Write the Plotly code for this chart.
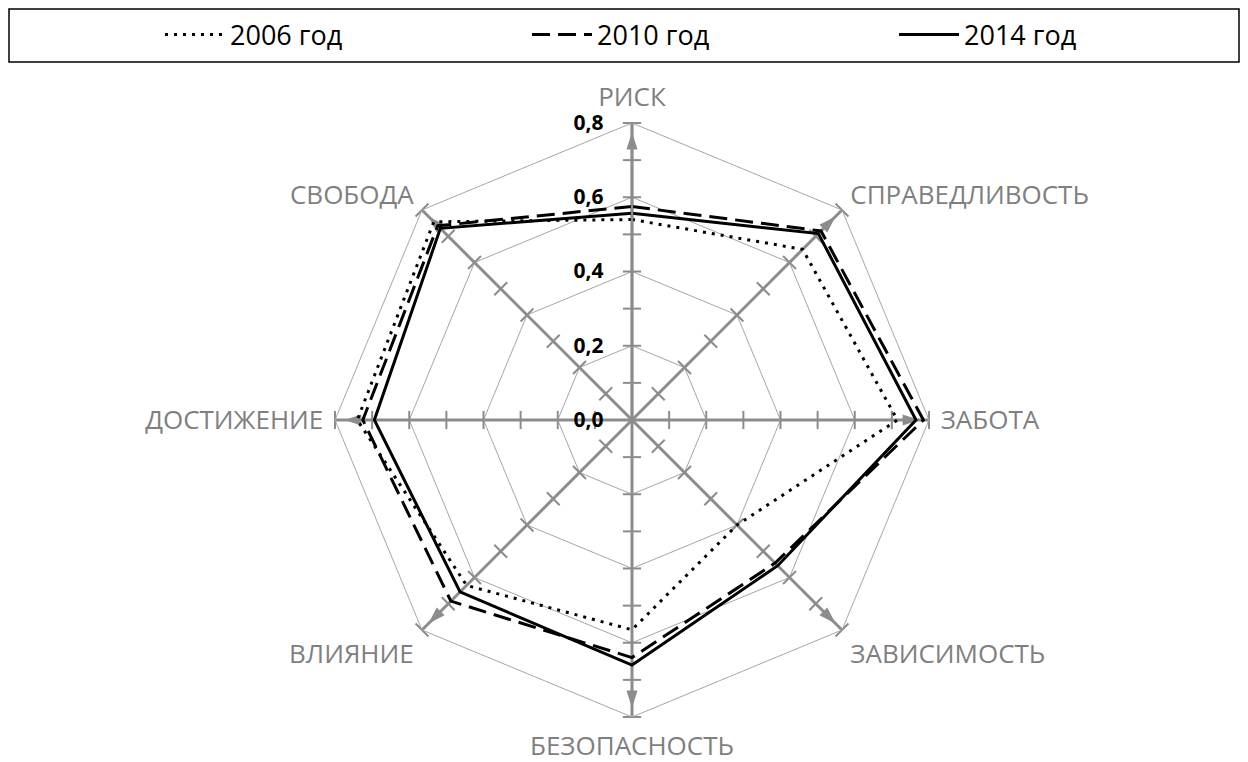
import plotly.graph_objects as go

categories = ["РИСК", "СПРАВЕДЛИВОСТЬ", "ЗАБОТА", "ЗАВИСИМОСТЬ",
              "БЕЗОПАСНОСТЬ", "ВЛИЯНИЕ", "ДОСТИЖЕНИЕ", "СВОБОДА"]
values_2006 = [0.54, 0.65, 0.715, 0.40, 0.565, 0.63, 0.74, 0.755]
values_2010 = [0.575, 0.72, 0.785, 0.545, 0.64, 0.69, 0.725, 0.74]
values_2014 = [0.557, 0.71, 0.765, 0.555, 0.66, 0.655, 0.694, 0.73]
series_names = ["2006 год", "2010 год", "2014 год"]
radial_ticks = [0.0, 0.2, 0.4, 0.6, 0.8]
minor_ticks = [0.1, 0.2, 0.3, 0.4, 0.5, 0.6, 0.7, 0.8]

AX = "#8c8c8c"
GRID = "#a6a6a6"

W, H = 1248, 762
ML, MR, MT, MB = 0, 0, 115, 53
PW = W - ML - MR
PH = H - MT - MB

fig = go.Figure()

n = len(categories)
compass = [i * 360.0 / n for i in range(n)]

for cat, ang in zip(categories, compass):
    fig.add_trace(go.Scatterpolar(
        r=minor_ticks, theta=[cat] * len(minor_ticks), mode="markers",
        marker=dict(symbol="line-ew", size=13, angle=ang,
                    line=dict(color=AX, width=2)),
        showlegend=False, hoverinfo="skip"))
    fig.add_trace(go.Scatterpolar(
        r=[0.775], theta=[cat], mode="markers",
        marker=dict(symbol="arrow", size=18, angle=ang, color=AX,
                    line=dict(width=0)),
        showlegend=False, hoverinfo="skip"))

fig.add_trace(go.Scatterpolar(
    r=[0], theta=[categories[0]], mode="markers",
    marker=dict(symbol="circle", size=15, color=AX),
    showlegend=False, hoverinfo="skip"))

styles = [dict(color="black", width=3, dash="3px,6px"),
          dict(color="black", width=3, dash="18px,8px"),
          dict(color="black", width=3, dash="solid")]
for name, vals, st in zip(series_names, [values_2006, values_2010, values_2014], styles):
    fig.add_trace(go.Scatterpolar(
        r=vals + vals[:1], theta=categories + categories[:1], mode="lines",
        name=name, line=st, hoverinfo="skip"))

fig.update_layout(
    width=W, height=H,
    paper_bgcolor="white", plot_bgcolor="white",
    separators=", ",
    margin=dict(l=ML, r=MR, t=MT, b=MB, autoexpand=False),
    font=dict(family="Open Sans", color="black"),
    polar=dict(
        bgcolor="white",
        gridshape="linear",
        angularaxis=dict(
            direction="clockwise", rotation=90,
            categoryorder="array", categoryarray=categories,
            showgrid=True, gridcolor=AX, gridwidth=2.5,
            showline=True, linecolor=GRID, linewidth=1,
            ticks="outside", ticklen=6, tickcolor="rgba(0,0,0,0)",
            tickfont=dict(family="Open Sans", size=26, color="#7f7f7f"),
        ),
        radialaxis=dict(
            range=[0, 0.8], tickvals=radial_ticks, tickformat=".1f",
            angle=90, tickangle=90, side="counterclockwise",
            showgrid=True, gridcolor=GRID, gridwidth=1,
            showline=True, linecolor=AX, linewidth=2.5,
            ticks="outside", ticklen=20, tickcolor="rgba(0,0,0,0)",
            layer="above traces",
            tickfont=dict(family="Open Sans", size=21, color="black", weight="bold"),
        ),
    ),
    showlegend=True,
    legend=dict(
        orientation="h", x=(152 - ML) / PW, xanchor="left",
        y=1 + (MT - 27) / PH, yanchor="middle",
        itemwidth=60, entrywidth=292,
        font=dict(family="Open Sans", size=27, color="black"),
        bgcolor="rgba(0,0,0,0)", borderwidth=0,
    ),
    shapes=[dict(type="rect", xref="paper", yref="paper",
                 x0=(1 - ML) / PW, x1=(1231 - ML) / PW,
                 y0=1 + (MT - 54) / PH, y1=1 + (MT - 1) / PH,
                 line=dict(color="black", width=1.5), fillcolor="rgba(0,0,0,0)")],
)

fig.write_html("out.html")
